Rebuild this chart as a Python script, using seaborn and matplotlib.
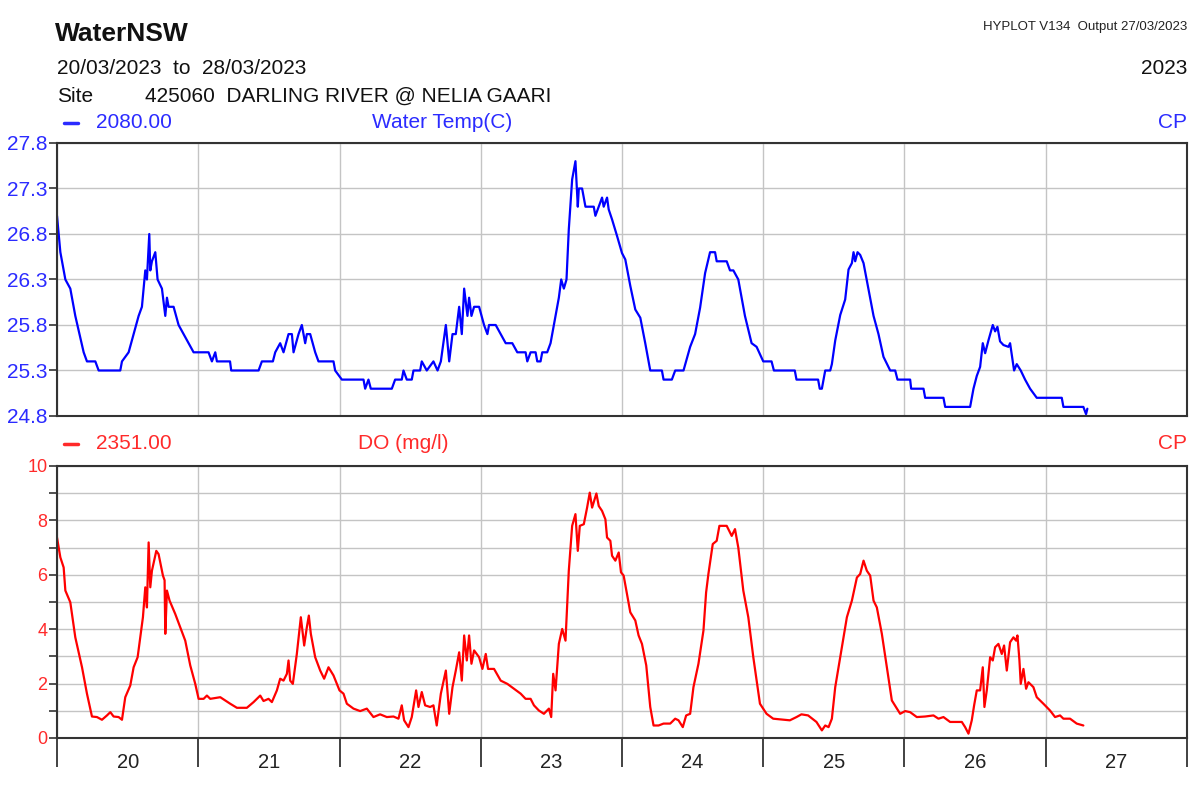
import numpy as np
import matplotlib
matplotlib.use('Agg')
import matplotlib.pyplot as plt
from matplotlib.lines import Line2D
import seaborn as sns

# hours since 20/03/2023 00:00
temp_hours = [0.0, 0.57, 1.42, 2.26, 3.11, 4.53, 5.09, 6.51, 7.08, 10.75, 11.04, 12.17, 13.02, 13.87,
              14.43, 15.0, 15.28, 15.68, 15.85, 16.13, 16.7, 17.09, 17.83, 18.4, 18.68, 18.96, 19.81,
              20.66, 21.51, 22.36, 23.21, 25.75, 26.32, 26.89, 27.17, 29.4, 29.6, 34.25, 34.81, 36.68,
              37.08, 37.92, 38.49, 39.34, 39.91, 40.19, 41.04, 41.6, 42.17, 42.45, 43.02, 43.87, 44.43,
              46.98, 47.26, 48.4, 52.08, 52.36, 52.92, 53.32, 56.89, 57.45, 58.58, 58.87, 59.43, 60.28,
              60.57, 61.7, 61.98, 62.83, 63.96, 64.66, 65.22, 66.07, 66.64, 67.2, 67.76, 68.33, 68.78,
              69.18, 69.74, 70.02, 70.42, 70.87, 71.72, 72.56, 73.13, 73.41, 74.54, 75.39, 76.24, 77.36,
              78.21, 79.62, 79.91, 80.47, 81.32, 81.6, 82.16, 82.45, 83.29, 83.86, 84.42, 85.27, 85.67,
              86.12, 86.57, 86.96, 87.53, 88.09, 88.49, 88.66, 89.22, 89.79, 91.2, 91.48, 92.05, 92.61,
              92.89, 93.46, 93.74, 94.31, 95.15, 96.0, 96.56, 97.41, 98.26, 99.11, 99.95, 100.8, 102.78,
              103.06, 104.47, 105.04, 106.45, 107.58, 108.42, 109.27, 110.12, 110.96, 111.81, 112.09,
              112.66, 113.79, 114.35, 114.92, 115.76, 116.89, 118.02, 118.87, 120.0, 121.41, 121.81,
              125.36, 125.65, 129.32, 129.6, 129.96, 130.53, 131.38, 131.66, 132.23, 133.08, 133.92,
              134.49, 135.06, 135.34, 135.62, 136.02, 136.47, 137.04, 137.89, 138.74, 139.58, 140.43,
              141.57, 142.42, 142.81, 144.96, 145.13, 147.23, 147.51, 148.36, 150.62, 150.91, 155.15,
              155.72, 156.28, 156.85, 157.3, 157.7, 158.26, 159.0, 159.4, 159.79, 160.24, 160.81, 161.66,
              161.94, 162.62, 163.07, 163.75, 164.49, 165.34, 166.47, 170.72, 171.0, 174.39, 174.85, 175.07]
temp_values = [27.0, 26.6, 26.3, 26.2, 25.9, 25.5, 25.4, 25.4, 25.3, 25.3, 25.4, 25.5, 25.7, 25.9,
               26.0, 26.4, 26.3, 26.8, 26.4, 26.5, 26.6, 26.3, 26.2, 25.9, 26.1, 26.0, 26.0,
               25.8, 25.7, 25.6, 25.5, 25.5, 25.4, 25.5, 25.4, 25.4, 25.3, 25.3, 25.4, 25.4,
               25.5, 25.6, 25.5, 25.7, 25.7, 25.5, 25.7, 25.8, 25.6, 25.7, 25.7, 25.5, 25.4,
               25.4, 25.3, 25.2, 25.2, 25.1, 25.2, 25.1, 25.1, 25.2, 25.2, 25.3, 25.2, 25.2,
               25.3, 25.3, 25.4, 25.3, 25.4, 25.3, 25.4, 25.8, 25.4, 25.7, 25.7, 26.0, 25.7,
               26.2, 25.9, 26.1, 25.9, 26.0, 26.0, 25.8, 25.7, 25.8, 25.8, 25.7, 25.6, 25.6,
               25.5, 25.5, 25.4, 25.5, 25.5, 25.4, 25.4, 25.5, 25.5, 25.6, 25.8, 26.1, 26.3,
               26.2, 26.3, 26.85, 27.4, 27.6, 27.1, 27.3, 27.3, 27.1, 27.1, 27.0, 27.1, 27.2,
               27.1, 27.2, 27.07, 26.96, 26.78, 26.59, 26.52, 26.23, 25.97, 25.88, 25.6, 25.3, 25.3,
               25.2, 25.2, 25.3, 25.3, 25.56, 25.7, 25.99, 26.37, 26.6, 26.6, 26.5,
               26.5, 26.5, 26.4, 26.4, 26.3, 25.9, 25.6, 25.56, 25.4, 25.4, 25.3,
               25.3, 25.2, 25.2, 25.1, 25.1, 25.3, 25.3, 25.37, 25.63, 25.91, 26.08,
               26.41, 26.48, 26.6, 26.5, 26.6, 26.57, 26.48, 26.19, 25.9, 25.7, 25.45,
               25.3, 25.3, 25.2, 25.2, 25.1, 25.1, 25.0, 25.0, 25.0, 24.9, 24.9,
               25.1, 25.24, 25.34, 25.6, 25.49, 25.63, 25.8, 25.73, 25.78, 25.62, 25.58, 25.56,
               25.6, 25.3, 25.37, 25.3, 25.2, 25.1, 25.0, 25.0, 24.9, 24.9, 24.82, 24.88]

do_hours = [0.0, 0.57, 1.13, 1.42, 2.26, 3.11, 4.25, 5.09, 5.94, 6.79, 7.64, 8.49, 9.06, 9.62, 10.47,
            11.04, 11.6, 12.45, 13.02, 13.7, 14.15, 14.6, 15.0, 15.28, 15.57, 15.85, 16.13, 16.87,
            17.26, 18.0, 18.28, 18.4, 18.68, 19.13, 20.09, 20.94, 21.79, 22.64, 23.49, 24.06, 24.91,
            25.47, 26.04, 27.74, 29.43, 30.57, 32.26, 33.4, 34.53, 35.09, 35.94, 36.51, 37.36, 37.92,
            38.49, 39.06, 39.34, 39.62, 40.07, 40.75, 41.43, 42.0, 42.45, 42.79, 43.13, 43.87, 44.72,
            45.39, 46.13, 46.98, 48.0, 48.68, 49.25, 50.38, 51.51, 52.64, 53.77, 54.9, 56.04, 57.17,
            58.02, 58.58, 58.98, 59.72, 60.28, 61.02, 61.42, 61.98, 62.55, 63.4, 63.96, 64.52, 65.22,
            66.07, 66.64, 67.2, 67.76, 68.33, 68.78, 69.18, 69.63, 70.02, 70.42, 70.87, 71.72, 72.28,
            72.85, 73.24, 74.26, 75.39, 76.52, 77.65, 78.78, 79.62, 80.47, 81.04, 81.88, 82.73, 83.58,
            83.97, 84.31, 84.71, 85.27, 85.84, 86.4, 86.96, 87.53, 88.09, 88.49, 88.83, 89.51, 90.07,
            90.52, 90.92, 91.65, 92.05, 92.61, 93.18, 93.46, 94.02, 94.31, 94.87, 95.44, 95.83, 96.28,
            96.85, 97.41, 98.26, 98.82, 99.39, 100.12, 100.8, 101.36, 102.21, 103.06, 104.19, 105.04,
            105.6, 106.33, 106.9, 107.58, 108.14, 108.99, 109.84, 110.29, 110.68, 111.42, 112.09,
            112.55, 113.79, 114.64, 115.2, 115.76, 116.61, 117.46, 118.31, 119.44, 120.56, 121.69,
            124.52, 125.65, 126.49, 127.62, 129.04, 129.6, 129.96, 130.53, 131.1, 131.66, 132.23,
            133.08, 133.64, 134.21, 135.06, 135.91, 136.47, 137.04, 137.6, 138.17, 138.74, 139.3,
            140.15, 141.0, 141.85, 143.26, 144.11, 144.96, 146.09, 147.51, 148.92, 149.77, 150.62,
            151.75, 153.74, 154.3, 154.87, 155.43, 155.83, 156.28, 156.85, 157.3, 157.58, 157.98,
            158.55, 159.0, 159.4, 159.96, 160.53, 160.92, 161.38, 161.94, 162.51, 162.96, 163.19,
            163.53, 163.75, 164.21, 164.66, 165.06, 165.9, 166.47, 167.6, 168.73, 169.58, 170.43,
            171.0, 172.13, 173.26, 174.39]
do_values = [7.37, 6.64, 6.27, 5.42, 4.99, 3.7, 2.6, 1.63, 0.79, 0.77, 0.67, 0.83, 0.95, 0.79, 0.77,
             0.67, 1.5, 1.93, 2.6, 2.97, 3.7, 4.44, 5.54, 4.8, 7.19, 5.54, 6.15, 6.88,
             6.76, 5.97, 5.8, 3.83, 5.42, 5.05, 4.56, 4.07, 3.58, 2.67, 1.99, 1.44, 1.44,
             1.56, 1.44, 1.5, 1.26, 1.11, 1.11, 1.32, 1.56, 1.36, 1.44, 1.32, 1.75, 2.18,
             2.11, 2.36, 2.85, 2.11, 1.99, 3.09, 4.44, 3.4, 4.07, 4.5, 3.83, 2.97, 2.48,
             2.18, 2.6, 2.3, 1.75, 1.63, 1.26, 1.08, 0.99, 1.08, 0.77, 0.87, 0.77, 0.79,
             0.71, 1.2, 0.65, 0.4, 0.77, 1.75, 1.14, 1.69, 1.2, 1.14, 1.2, 0.46, 1.63,
             2.48, 0.89, 1.87, 2.48, 3.15, 2.11, 3.77, 2.85, 3.77, 2.73, 3.22, 2.97, 2.54,
             3.09, 2.54, 2.54, 2.11, 1.99, 1.81, 1.63, 1.44, 1.44, 1.2, 1.01, 0.89, 1.08,
             0.77, 2.36, 1.75, 3.46, 4.01, 3.58, 6.15, 7.8, 8.23, 6.88, 7.8, 7.86, 8.47,
             9.02, 8.47, 8.99, 8.53, 8.35, 8.04, 7.37, 7.25, 6.7, 6.52, 6.82, 6.09, 5.97,
             5.29, 4.62, 4.32, 3.77, 3.46, 2.67, 1.14, 0.46, 0.46, 0.53, 0.53, 0.71,
             0.65, 0.4, 0.83, 0.89, 1.87, 2.73, 3.95, 5.35, 6.03, 7.13, 7.25,
             7.8, 7.8, 7.43, 7.68, 7.0, 5.42, 4.44, 2.97, 1.26, 0.89, 0.71,
             0.65, 0.77, 0.87, 0.83, 0.59, 0.4, 0.28, 0.46, 0.4, 0.71, 1.87,
             2.97, 3.7, 4.44, 5.05, 5.9, 6.03, 6.52, 6.15, 5.97, 5.05, 4.8,
             3.83, 2.6, 1.38, 0.89, 0.99, 0.95, 0.77, 0.79, 0.83, 0.71, 0.77,
             0.59, 0.59, 0.4, 0.16, 0.65, 1.2, 1.75, 1.75, 2.6, 1.14, 1.75,
             2.97, 2.85, 3.34, 3.46, 3.09, 3.4, 2.48, 3.52, 3.7, 3.58, 3.77,
             2.85, 1.99, 2.54, 1.81, 2.05, 1.87, 1.5, 1.26, 1.01, 0.77, 0.83,
             0.71, 0.71, 0.53, 0.46]

day_labels = ['20', '21', '22', '23', '24', '25', '26', '27']
temp_ticks = [24.8, 25.3, 25.8, 26.3, 26.8, 27.3, 27.8]
do_ticks = [0, 2, 4, 6, 8, 10]

BLUE = '#0000ff'
RED = '#ff0000'
BLUE_TXT = '#2b2bff'
RED_TXT = '#ff2a2a'
GRID = '#c4c4c4'
FRAME = '#333333'

sns.set_theme(style='white')
plt.rcParams['font.family'] = ['Liberation Sans', 'DejaVu Sans']

W, H = 1199, 787
fig = plt.figure(figsize=(W / 100, H / 100), dpi=100)


def box(l, t, r, b):
    return [l / W, 1 - b / H, (r - l) / W, (b - t) / H]


ax1 = fig.add_axes(box(57, 143, 1187, 416))
ax2 = fig.add_axes(box(57, 466, 1187, 738))

sns.lineplot(x=temp_hours, y=temp_values, ax=ax1, color=BLUE, linewidth=1.6,
             estimator=None, sort=False)
sns.lineplot(x=do_hours, y=do_values, ax=ax2, color=RED, linewidth=1.6,
             estimator=None, sort=False)

day_edges = np.arange(0, 24 * 8 + 1, 24)
day_mids = day_edges[:-1] + 12

for ax in (ax1, ax2):
    ax.set_xlim(0, 192)
    ax.set_xticks(day_edges)
    ax.set_xlabel('')
    ax.set_ylabel('')
    ax.grid(True, which='major', axis='both', color=GRID, linewidth=1)
    for sp in ax.spines.values():
        sp.set_color(FRAME)
        sp.set_linewidth(1.5)
        sp.set_visible(True)

ax1.set_ylim(24.8, 27.8)
ax1.set_yticks(temp_ticks)
ax1.set_yticklabels([f'{v:.1f}' for v in temp_ticks])
ax1.tick_params(axis='x', length=0, labelbottom=False)
ax1.tick_params(axis='y', length=6, width=1.2, color=FRAME, pad=1,
                labelsize=15, labelcolor=BLUE_TXT, left=True)

ax2.set_ylim(0, 10)
ax2.set_yticks(do_ticks)
ax2.set_yticks(np.arange(1, 10, 2), minor=True)
ax2.grid(True, which='minor', axis='y', color=GRID, linewidth=1)
ax2.tick_params(axis='y', which='both', length=6, width=1.2, color=FRAME, pad=1,
                labelsize=13, labelcolor=RED_TXT, left=True)
ax2.set_xticks(day_mids, minor=True)
ax2.set_xticklabels(day_labels, minor=True)
ax2.tick_params(axis='x', which='major', length=21, width=1.3, color=FRAME,
                labelbottom=False, bottom=True)
ax2.tick_params(axis='x', which='minor', length=0, pad=11, labelsize=14.5,
                labelcolor='#222222', bottom=True)

# header
fig.text(55 / W, 1 - 34 / H, 'WaterNSW', fontsize=19, fontweight='bold', va='center', color='#111111')
fig.text(57 / W, 1 - 69 / H, '20/03/2023  to  28/03/2023', fontsize=15, va='center', color='#111111')
fig.text(57 / W, 1 - 96 / H, 'Site', fontsize=15, va='center', color='#111111')
fig.text(145 / W, 1 - 96 / H, '425060  DARLING RIVER @ NELIA GAARI', fontsize=15, va='center', color='#111111')
fig.text(1187 / W, 1 - 27 / H, 'HYPLOT V134  Output 27/03/2023', fontsize=9.5, ha='right', va='center',
         color='#222222')
fig.text(1187 / W, 1 - 69 / H, '2023', fontsize=15, ha='right', va='center', color='#111111')

# series labels above each panel
for y, col, code, name, name_x in [(123, BLUE_TXT, '2080.00', 'Water Temp(C)', 372),
                                   (444, RED_TXT, '2351.00', 'DO (mg/l)', 358)]:
    fig.add_artist(Line2D([64 / W, 78 / W], [1 - y / H, 1 - y / H], color=col, linewidth=2.5))
    fig.text(96 / W, 1 - y / H, code, fontsize=15, va='center', color=col)
    fig.text(name_x / W, 1 - y / H, name, fontsize=15, va='center', color=col)
    fig.text(1187 / W, 1 - y / H, 'CP', fontsize=15, ha='right', va='center', color=col)

fig.savefig('out.png', dpi=100)
